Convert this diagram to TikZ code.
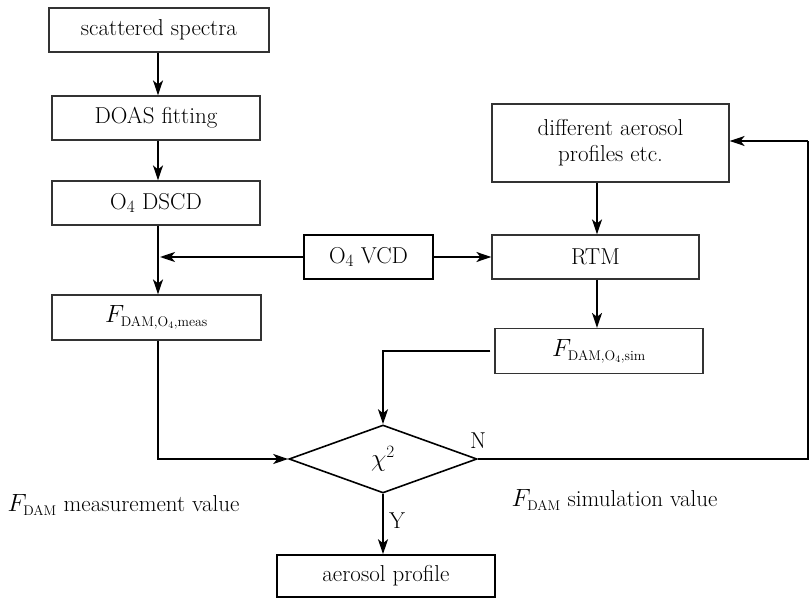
\documentclass[tikz,border=0pt]{standalone}
\usetikzlibrary{shapes.geometric,arrows.meta}
\newcommand{\subtxt}[1]{\mbox{\fontsize{14}{16}\selectfont #1}}
\begin{document}
\begin{tikzpicture}[x=1pt,y=-1pt,
  font=\fontsize{23}{26}\selectfont,
  box/.style={draw=black!80,line width=1.2pt,rectangle,inner sep=0pt,align=center},
  boxk/.style={draw=black,line width=1.6pt,rectangle,inner sep=0pt,align=center},
  conn/.style={line width=1.6pt,-{Stealth[length=15pt,width=10pt,inset=4pt]}},
  plain/.style={line width=1.6pt}]
\useasboundingbox (0,0) rectangle (809,599);
\node[box,minimum width=220pt,minimum height=44pt] (ss) at (159,30) {scattered spectra};
\node[box,minimum width=208pt,minimum height=44pt] (doas) at (156,118) {DOAS fitting};
\node[box,minimum width=208pt,minimum height=44pt] (dscd) at (156,203) {O$_4$ DSCD};
\node[box,minimum width=209pt,minimum height=45pt] (fmeas) at (156.5,317.5) {$F_{\subtxt{DAM,O$_4$,meas}}$};
\node[boxk,minimum width=129pt,minimum height=44pt] (vcd) at (368.5,257) {O$_4$ VCD};
\node[box,minimum width=207pt,minimum height=44pt] (rtm) at (595.5,257) {RTM};
\node[box,minimum width=237pt,minimum height=78pt] (dap) at (610.5,143) {different aerosol\\profiles etc.};
\node[box,minimum width=208pt,minimum height=45pt] (fsim) at (599,351) {$F_{\subtxt{DAM,O$_4$,sim}}$};
\node[draw=black,line width=1.6pt,diamond,inner sep=0pt,minimum width=188pt,minimum height=68pt] (chi) at (383,459) {$\chi^2$};
\node[boxk,minimum width=218pt,minimum height=42pt] (ap) at (386,576) {aerosol profile};
\node (nlab) at (478,441) {N};
\node (ylab) at (397,521) {Y};
\node[anchor=west] (mv) at (4,505) {$F_{\subtxt{DAM}}$ measurement value};
\node[anchor=west] (sv) at (508,500) {$F_{\subtxt{DAM}}$ simulation value};
\coordinate (j1) at (160,257);
\coordinate (c1) at (158,459);
\coordinate (c2) at (383,351);
\coordinate (c3) at (808,459);
\coordinate (c4) at (808,141);
\draw[conn] (ss.south -| 158,0) -- (doas.north -| 158,0);
\draw[conn] (doas.south -| 158,0) -- (dscd.north -| 158,0);
\draw[conn] (dscd.south -| 158,0) -- (fmeas.north -| 158,0);
\draw[conn] (vcd.west) -- (j1);
\draw[conn] (vcd.east) -- (rtm.west);
\draw[conn] (dap.south -| 597,0) -- (rtm.north -| 597,0);
\draw[conn] (rtm.south -| 597,0) -- (fsim.north -| 597,0);
\draw[conn] (fmeas.south -| 158,0) -- (c1) -- (chi.west);
\draw[conn] ([xshift=-4pt]fsim.west) -- (c2) -- (chi.north);
\draw[plain] (chi.east) -- (c3) -- (c4);
\draw[conn] (c4) -- (c4 -| dap.east);
\draw[conn] (chi.south) -- (ap.north -| chi.south);
\end{tikzpicture}
\end{document}
